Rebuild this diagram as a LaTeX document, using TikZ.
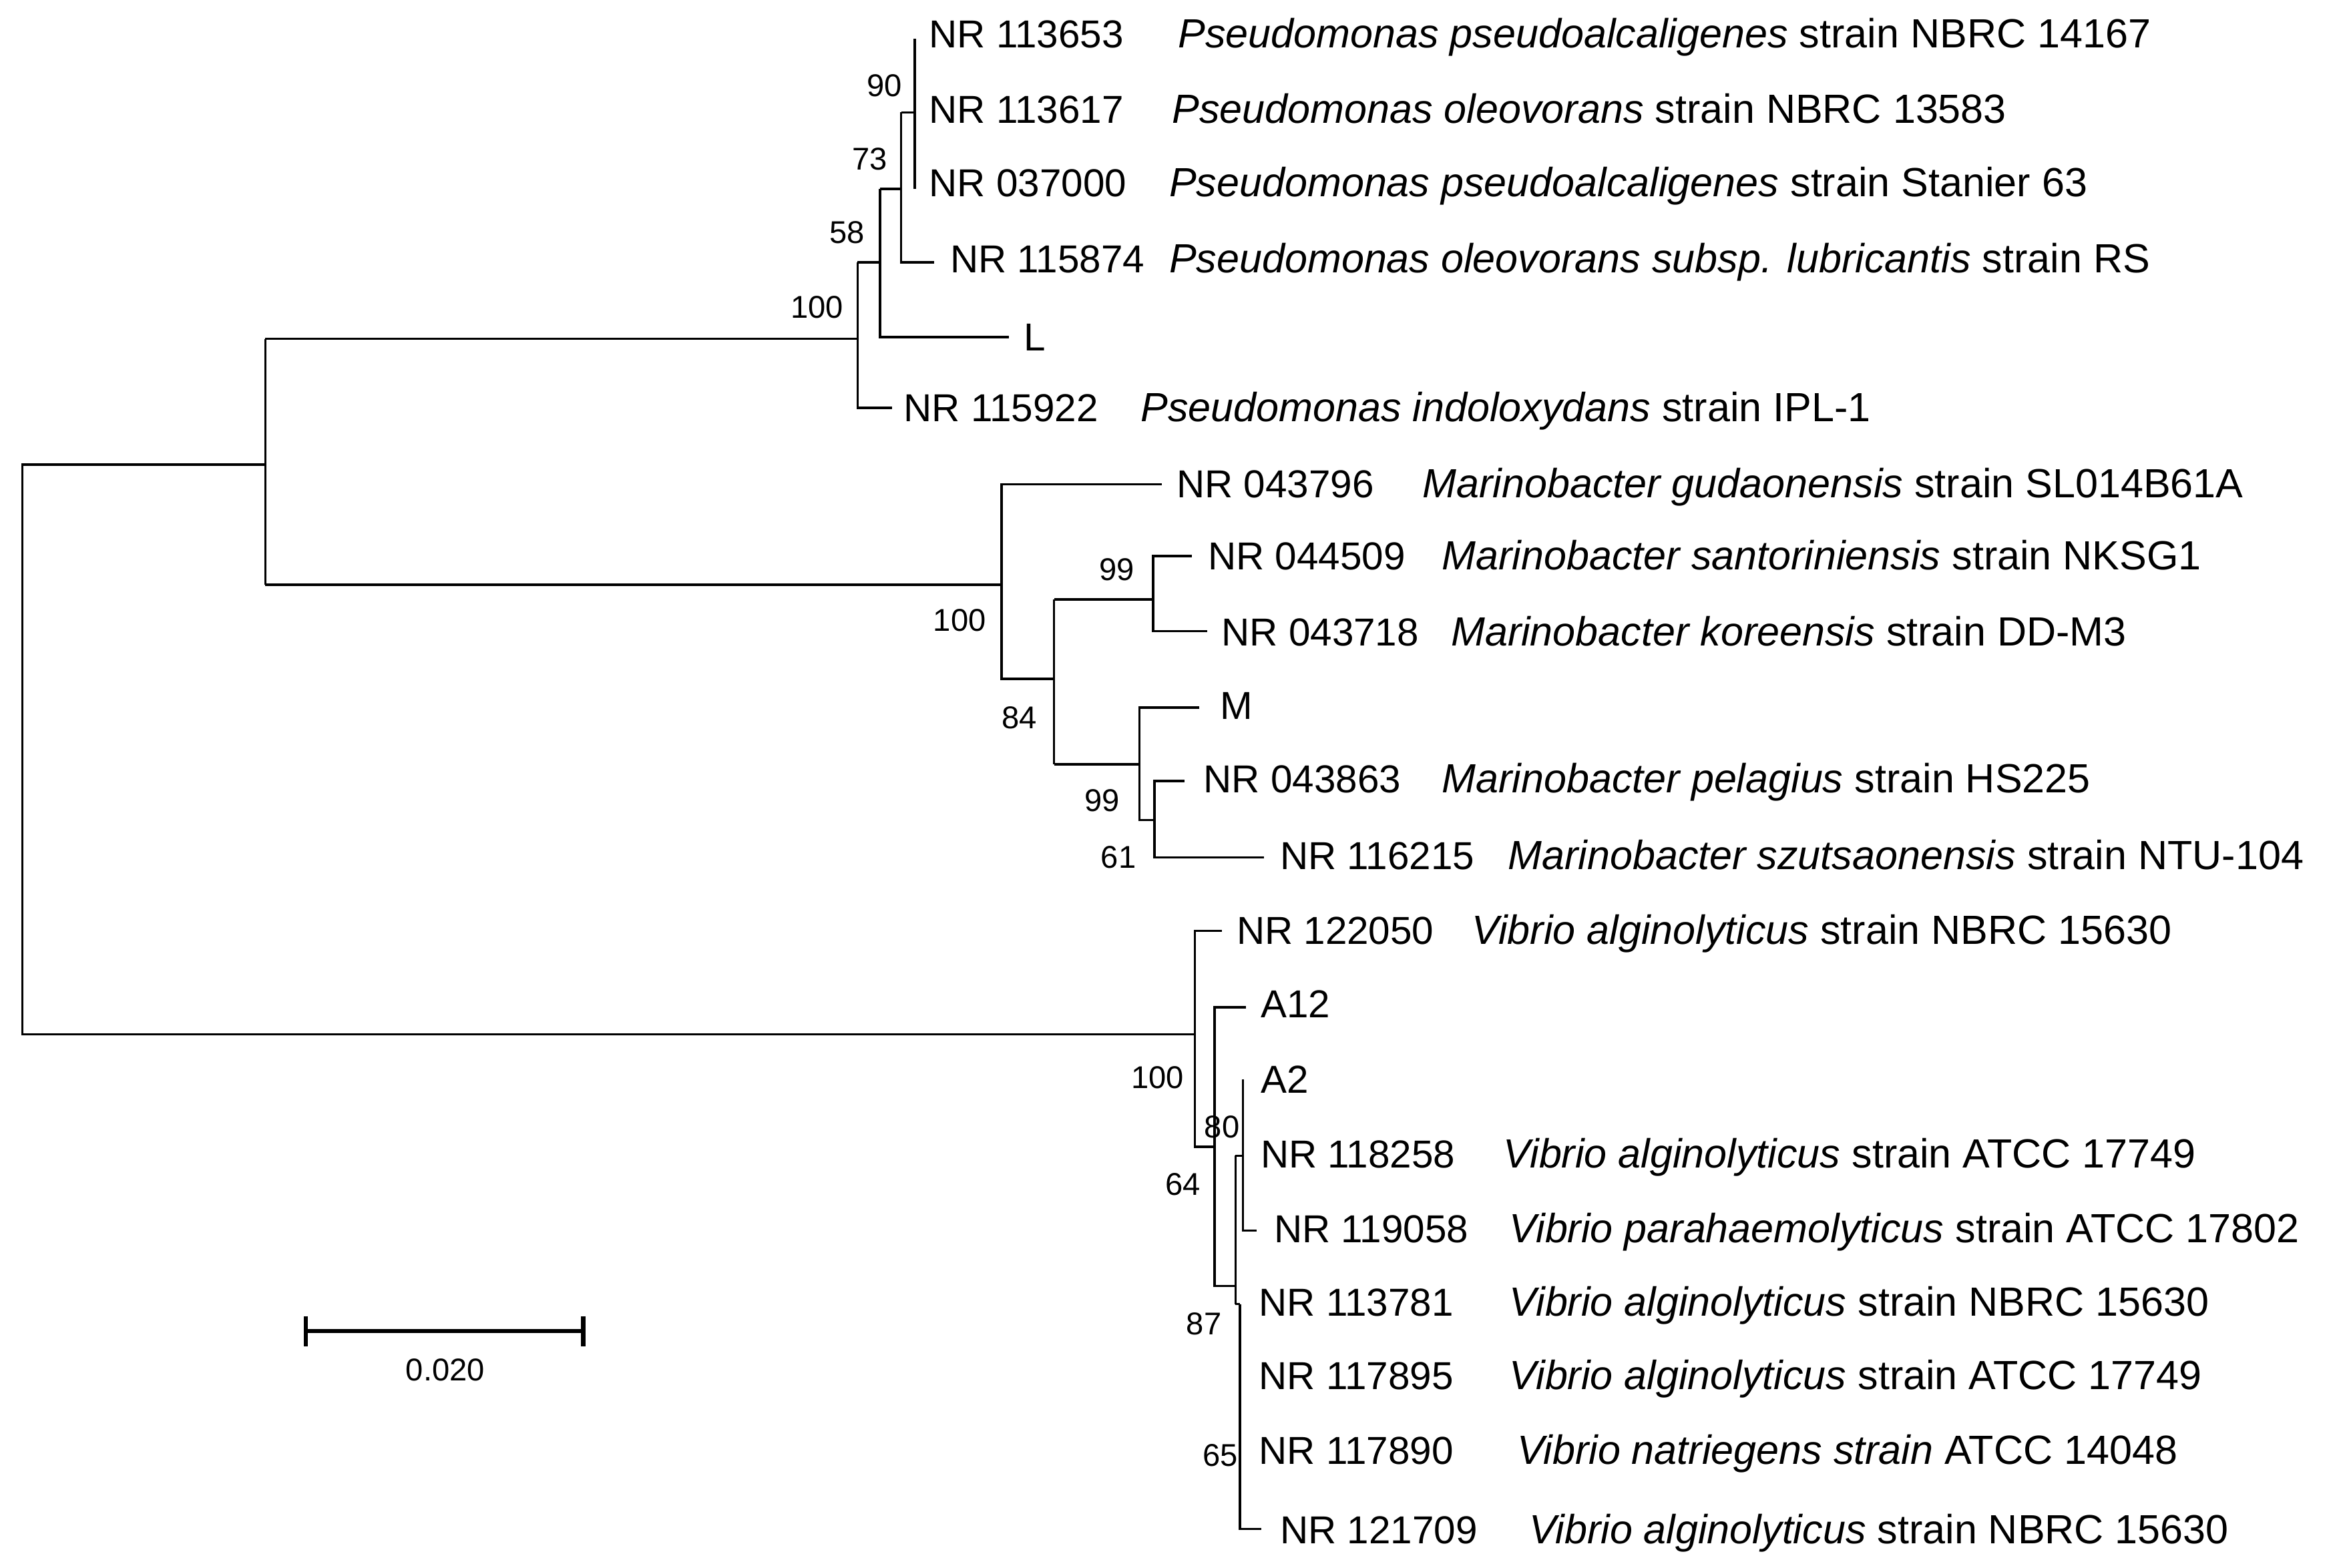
\documentclass[tikz,border=0pt]{standalone}
\usepackage{fontspec}
\setmainfont{Liberation Sans}
\begin{document}
\begin{tikzpicture}[x=0.5pt,y=-0.5pt,line width=0.8pt,
  lab/.style={anchor=base west,inner sep=0pt,font=\fontsize{13}{15}\selectfont},
  sp/.style={anchor=base west,inner sep=0pt,font=\fontsize{13.6}{15}\selectfont},
  bs/.style={anchor=center,inner sep=0pt,font=\fontsize{10.5}{12}\selectfont}]
\useasboundingbox (0,0) rectangle (1564,1046);
% root
\draw (177,310) -- (15,310) -- (15,690) -- (797,690);
% Pseudomonas
\draw (177,226) -- (177,390);
\draw (177,226) -- (572,226);
\draw (572,175) -- (572,272) -- (595,272);
\draw (572,175) -- (587,175);
\draw (587,126) -- (587,225) -- (673,225);
\draw (587,126) -- (601,126);
\draw (601,75) -- (601,175) -- (623,175);
\draw (601,75) -- (610,75);
\draw (610,26) -- (610,126);
% Marinobacter
\draw (177,390) -- (668,390);
\draw (775,323) -- (668,323) -- (668,453) -- (703,453);
\draw (703,400) -- (703,510);
\draw (703,400) -- (769,400);
\draw (795,371) -- (769,371) -- (769,421) -- (805,421);
\draw (703,510) -- (760,510);
\draw (800,472) -- (760,472) -- (760,547) -- (770,547);
\draw (790,521) -- (770,521) -- (770,572) -- (843,572);
% Vibrio
\draw (815,621) -- (797,621) -- (797,765) -- (810,765);
\draw (831,672) -- (810,672) -- (810,858) -- (824,858);
\draw (824,771) -- (824,870);
\draw (824,771) -- (829,771);
\draw (829,720) -- (829,821) -- (838,821);
\draw (827,870) -- (827,1020) -- (841,1020);
\draw (824,870) -- (827,870);
% bootstrap
\node[bs] (b1) at (590,57) {90};
\node[bs] (b2) at (580,106) {73};
\node[bs] (b3) at (565,155) {58};
\node[bs] (b4) at (545,205) {100};
\node[bs] (b5) at (640,414) {100};
\node[bs] (b6) at (680,479) {84};
\node[bs] (b7) at (745,380) {99};
\node[bs] (b8) at (735,534) {99};
\node[bs] (b9) at (746,572) {61};
\node[bs] (b10) at (772,719) {100};
\node[bs] (b11) at (815,752) {80};
\node[bs] (b12) at (789,790) {64};
\node[bs] (b13) at (803,883) {87};
\node[bs] (b14) at (814,971) {65};
% labels
\node[lab] (t1) at (619,32) {NR 113653};
\node[sp] (s1) at (785,32) {\textit{Pseudomonas pseudoalcaligenes} strain NBRC 14167};
\node[lab] (t2) at (619,82) {NR 113617};
\node[sp] (s2) at (781,82) {\textit{Pseudomonas oleovorans} strain NBRC 13583};
\node[lab] (t3) at (619,131) {NR 037000};
\node[sp] (s3) at (779,131) {\textit{Pseudomonas pseudoalcaligenes} strain Stanier 63};
\node[lab] (t4) at (633,182) {NR 115874};
\node[sp] (s4) at (779,182) {\textit{Pseudomonas oleovorans subsp. lubricantis} strain RS};
\node[lab] (t5) at (682,234) {L};
\node[lab] (t6) at (602,281) {NR 115922};
\node[sp] (s6) at (760,281) {\textit{Pseudomonas indoloxydans} strain IPL-1};
\node[lab] (t7) at (784,332) {NR 043796};
\node[sp] (s7) at (948,332) {\textit{Marinobacter gudaonensis} strain SL014B61A};
\node[lab] (t8) at (805,380) {NR 044509};
\node[sp] (s8) at (961,380) {\textit{Marinobacter santoriniensis} strain NKSG1};
\node[lab] (t9) at (814,431) {NR 043718};
\node[sp] (s9) at (967,431) {\textit{Marinobacter koreensis} strain DD-M3};
\node[lab] (t10) at (813,480) {M};
\node[lab] (t11) at (802,529) {NR 043863};
\node[sp] (s11) at (961,529) {\textit{Marinobacter pelagius} strain HS225};
\node[lab] (t12) at (853,580) {NR 116215};
\node[sp] (s12) at (1005,580) {\textit{Marinobacter szutsaonensis} strain NTU-104};
\node[lab] (t13) at (824,630) {NR 122050};
\node[sp] (s13) at (981,630) {\textit{Vibrio alginolyticus} strain NBRC 15630};
\node[lab] (t14) at (840,679) {A12};
\node[lab] (t15) at (840,729) {A2};
\node[lab] (t16) at (840,779) {NR 118258};
\node[sp] (s16) at (1002,779) {\textit{Vibrio alginolyticus} strain ATCC 17749};
\node[lab] (t17) at (849,829) {NR 119058};
\node[sp] (s17) at (1006,829) {\textit{Vibrio parahaemolyticus} strain ATCC 17802};
\node[lab] (t18) at (839,878) {NR 113781};
\node[sp] (s18) at (1006,878) {\textit{Vibrio alginolyticus} strain NBRC 15630};
\node[lab] (t19) at (839,927) {NR 117895};
\node[sp] (s19) at (1006,927) {\textit{Vibrio alginolyticus} strain ATCC 17749};
\node[lab] (t20) at (839,977) {NR 117890};
\node[sp] (s20) at (1011,977) {\textit{Vibrio natriegens strain} ATCC 14048};
\node[lab] (t21) at (853,1030) {NR 121709};
\node[sp] (s21) at (1019,1030) {\textit{Vibrio alginolyticus} strain NBRC 15630};
% scale bar
\draw[line width=1.4pt] (204,878) -- (204,898) (204,888) -- (389,888) (389,878) -- (389,898);
\node[bs] (sc) at (297,914) {0.020};
\end{tikzpicture}
\end{document}
